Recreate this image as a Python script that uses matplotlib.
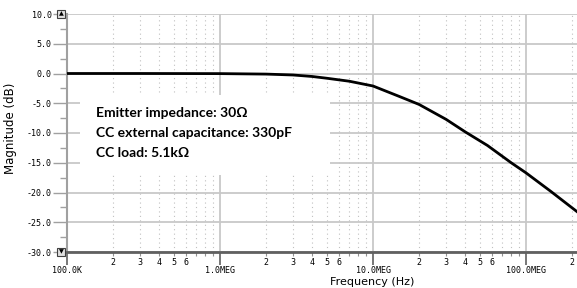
import numpy as np
import matplotlib
matplotlib.use('Agg')
import matplotlib.pyplot as plt
from matplotlib.patches import Rectangle

#==========================================================
# data
#==========================================================
freq = [1e5, 3e5, 1e6, 2e6, 3e6, 4e6, 5e6, 7e6, 1e7, 1.5e7, 2e7, 3e7,
        4e7, 5.6e7, 8e7, 1e8, 1.45e8, 2.2e8]
mag_db = [0.0, 0.0, -0.02, -0.1, -0.25, -0.5, -0.8, -1.3, -2.1, -3.9,
          -5.2, -7.7, -9.8, -12.1, -15.0, -16.7, -19.8, -23.4]

major_x = [1e5, 1e6, 1e7, 1e8]
major_x_labels = ['100.0K', '1.0MEG', '10.0MEG', '100.0MEG']
y_ticks = [10, 5, 0, -5, -10, -15, -20, -25, -30]
y_labels = ['10.0', '5.0', '0.0', '-5.0', '-10.0', '-15.0', '-20.0', '-25.0', '-30.0']

note_lines = ['Emitter impedance: 30\u03a9',
              'CC external capacitance: 330pF',
              'CC load: 5.1k\u03a9']

#==========================================================
# plot
#==========================================================
fig = plt.figure(figsize=(5.77, 2.88), dpi=100)
ax = fig.add_axes([67/577, 1-252/288, 510/577, 238/288])

ax.set_xscale('log')
ax.set_xlim(1e5, 2.154e8)
ax.set_ylim(-30, 10)

# ticks
minor_x = [m*d for d in [1e5, 1e6, 1e7, 1e8] for m in range(2, 10)]
minor_x = [v for v in minor_x if v < 2.154e8]
minor_lab = [str(int(round(v/10**np.floor(np.log10(v))))) if
             int(round(v/10**np.floor(np.log10(v)))) <= 6 else '' for v in minor_x]
ax.set_xticks(major_x)
ax.set_xticklabels(major_x_labels)
ax.set_xticks(minor_x, minor=True)
ax.set_xticklabels(minor_lab, minor=True)
ax.set_yticks(y_ticks)
ax.set_yticklabels(y_labels)
ax.set_yticks(np.arange(-27.5, 10, 5), minor=True)

mono = 'DejaVu Sans Mono'
ax.tick_params(axis='x', which='major', length=9, width=1.2, color='#606060',
               pad=1, labelsize=6)
ax.tick_params(axis='x', which='minor', length=3, width=0.8, color='#909090',
               pad=1, labelsize=6)
ax.tick_params(axis='y', which='major', length=10, width=1, color='#a0a0a0',
               pad=1, labelsize=6)
ax.tick_params(axis='y', which='minor', length=5, width=1, color='#a0a0a0')
for lab in ax.get_xticklabels(which='both') + ax.get_yticklabels():
    lab.set_family(mono)

# grid
ax.set_axisbelow(True)
ax.grid(which='major', axis='both', color='#c8c8c8', linewidth=1.3)
ax.grid(which='minor', axis='x', color='#c0c0c0', linewidth=0.8,
        linestyle=(0, (1, 3)))

for s in ['top', 'right']:
    ax.spines[s].set_visible(False)
ax.spines['left'].set_color('#a0a0a0')
ax.spines['left'].set_linewidth(1.5)
ax.spines['bottom'].set_color('#606060')
ax.spines['bottom'].set_linewidth(2)

# note box
ax.add_patch(Rectangle((0.0255, 0.3235), 0.49, 0.337, transform=ax.transAxes,
                       facecolor='white', edgecolor='none', zorder=1))
for i, txt in enumerate(note_lines):
    ax.text(0.057, 0.567 - i*0.084, txt, transform=ax.transAxes, fontsize=10,
            family='Lato', weight='bold', ha='left', va='baseline', zorder=4)

ax.plot(freq, mag_db, color='black', linewidth=2, zorder=3)

# scroll arrows
for yy, sym in [(1.0, '\u25b2'), (0.0, '\u25bc')]:
    ax.text(-0.012, yy, sym, transform=ax.transAxes, fontsize=4.5, ha='center',
            va='center', zorder=5, clip_on=False,
            bbox=dict(boxstyle='square,pad=0.25', facecolor='#e0e0e0',
                      edgecolor='#404040', linewidth=0.8))

ax.set_xlabel('Frequency (Hz)', fontsize=8, labelpad=0, va='bottom')
ax.xaxis.set_label_coords(0.598, -0.145)
ax.set_ylabel('Magnitude (dB)', fontsize=8.5)
ax.yaxis.set_label_coords(-0.098, 0.52)

plt.savefig('out.png', dpi=100)
plt.close()
